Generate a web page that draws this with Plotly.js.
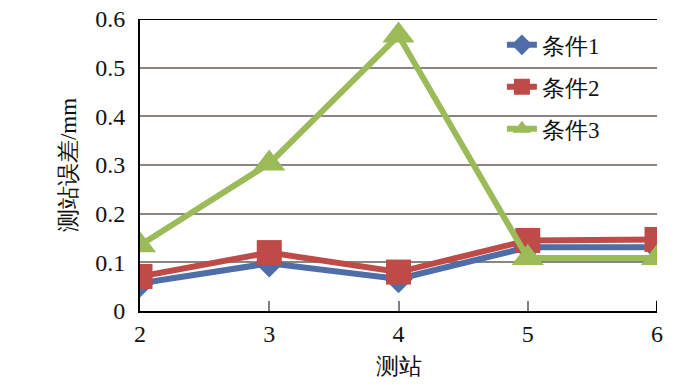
<!DOCTYPE html>
<html>
<head>
<meta charset="utf-8">
<script src="https://cdn.plot.ly/plotly-3.0.1.min.js"></script>
<style>
html,body{margin:0;padding:0;background:#fff;}
#chart{width:700px;height:387px;}
</style>
</head>
<body>
<div id="chart"></div>
<script>
const stations = [2, 3, 4, 5, 6];
const cond1 = [0.057, 0.098, 0.066, 0.131, 0.131];
const cond2 = [0.071, 0.120, 0.080, 0.145, 0.147];
const cond3 = [0.135, 0.303, 0.566, 0.109, 0.109];
const seriesNames = ['条件1', '条件2', '条件3'];
const yTicks = [0, 0.1, 0.2, 0.3, 0.4, 0.5, 0.6];
const yTickText = ['0', '0.1', '0.2', '0.3', '0.4', '0.5', '0.6'];

const FONT = 'Liberation Serif';
const TICKFONT = 'Times New Roman';

const traces = [
  {x: stations, y: cond1, name: seriesNames[0], legendgroup: 'g1', mode: 'lines+markers',
   line: {color: '#4F6EA8', width: 6}, marker: {symbol: 'diamond', size: 22, color: '#4F6EA8'}},
  {x: stations, y: cond2, name: seriesNames[1], legendgroup: 'g2', mode: 'lines+markers',
   line: {color: '#BE4B48', width: 6}, marker: {symbol: 'square', size: 25, color: '#BE4B48'}},
  {x: stations, y: cond3, name: seriesNames[2], legendgroup: 'g3', mode: 'lines+markers',
   line: {color: '#9BBB59', width: 6}, marker: {symbol: 'triangle-up', size: 28, color: '#9BBB59'}}
];

const layout = {
  width: 700, height: 387,
  margin: {l: 140, r: 43, t: 19, b: 76},
  paper_bgcolor: '#fff', plot_bgcolor: '#fff',
  font: {family: FONT, size: 22, color: '#111'},
  showlegend: true,
  legend: {x: 0.70, y: 0.985, xanchor: 'left', yanchor: 'top', bgcolor: 'rgba(255,255,255,0)',
           font: {family: TICKFONT, size: 23, color: '#111'}, tracegroupgap: 9, traceorder: 'grouped'},
  xaxis: {
    range: [2, 6], tickvals: stations, ticktext: stations.map(String),
    showline: true, linecolor: '#000', linewidth: 2, showgrid: false, zeroline: false,
    ticks: 'inside', ticklen: 10, tickcolor: '#808080', tickwidth: 2,
    tickfont: {family: TICKFONT, size: 24, color: '#111'},
    title: {text: '测站', font: {family: FONT, size: 23, color: '#111'}, standoff: 12}
  },
  yaxis: {
    range: [0, 0.6], tickvals: yTicks, ticktext: yTickText,
    showline: true, linecolor: '#000', linewidth: 2, showgrid: true, gridcolor: '#8A8580', gridwidth: 2,
    zeroline: false, ticks: '', ticklabelstandoff: 8,
    tickfont: {family: TICKFONT, size: 24, color: '#111'},
    title: {text: '测站误差/mm', font: {family: FONT, size: 23, color: '#111'}, standoff: 12}
  },
  shapes: [
    {type: 'line', xref: 'paper', yref: 'y', x0: 0, x1: 1, y0: 0.6, y1: 0.6, line: {color: '#000', width: 2}},
    {type: 'line', xref: 'x', yref: 'paper', x0: 6, x1: 6, y0: 0, y1: 0.035, line: {color: '#000', width: 2}}
  ]
};

Plotly.newPlot('chart', traces, layout, {displayModeBar: false, staticPlot: true});
</script>
</body>
</html>
